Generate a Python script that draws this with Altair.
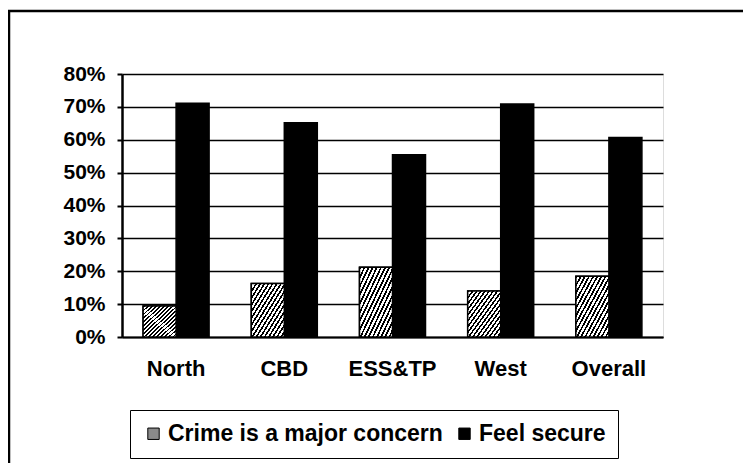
import altair as alt
import pandas as pd

categories = ["North", "CBD", "ESS&TP", "West", "Overall"]
series_names = ["Crime is a major concern", "Feel secure"]
crime_vals = [9.4, 16.3, 21.2, 14.0, 18.5]
secure_vals = [71.1, 65.2, 55.4, 70.9, 60.7]
y_ticks = [0, 10, 20, 30, 40, 50, 60, 70, 80]

rows = []
for c, a, b in zip(categories, crime_vals, secure_vals):
    rows.append({"cat": c, "series": series_names[0], "value": a / 100})
    rows.append({"cat": c, "series": series_names[1], "value": b / 100})
df = pd.DataFrame(rows)

FONT = "Liberation Sans"
W, H = 541, 263

# diagonal hatch via hard-stop gradient
N = 16
stops = []
for i in range(N):
    a = i / N
    b = (i + 0.45) / N
    c2 = (i + 1) / N
    stops += [
        {"offset": a, "color": "#000000"},
        {"offset": b, "color": "#000000"},
        {"offset": b, "color": "#ffffff"},
        {"offset": c2, "color": "#ffffff"},
    ]
hatch = {"gradient": "linear", "x1": 0, "y1": 0, "x2": 1, "y2": 1, "stops": stops}

x_enc = alt.X(
    "cat:N",
    sort=categories,
    scale=alt.Scale(paddingInner=0.39, paddingOuter=0.195),
    axis=alt.Axis(
        title=None, labelAngle=0, labelFont=FONT, labelFontSize=22,
        labelFontWeight="bold", labelColor="black", labelPadding=21,
        ticks=False, domainColor="black", domainWidth=2,
    ),
)
y_enc = alt.Y(
    "value:Q",
    scale=alt.Scale(domain=[0, 0.8], nice=False),
    axis=alt.Axis(
        title=None, format=".0%", values=[v / 100 for v in y_ticks],
        labelFont=FONT, labelFontSize=21, labelFontWeight="bold",
        labelColor="black", labelPadding=12, tickSize=5, tickColor="black",
        tickWidth=2, domainColor="black", domainWidth=2.5, labelOverlap=False,
        grid=True, gridColor="black", gridWidth=1.6, gridOpacity=1,
    ),
)
xoff = alt.XOffset("series:N", sort=series_names, scale=alt.Scale(domain=series_names, paddingInner=0, paddingOuter=0))

bars = alt.Chart(df).mark_bar(stroke="black", strokeWidth=1.5).encode(
    x=x_enc,
    y=y_enc,
    xOffset=xoff,
    color=alt.Color(
        "series:N",
        sort=series_names,
        scale=alt.Scale(domain=series_names, range=["#8a8a8a", "#000000"]),
        legend=alt.Legend(
            title=None, orient="none", legendX=8, legendY=336, direction="horizontal",
            labelFont=FONT, labelFontSize=23, labelFontWeight="bold", labelColor="black",
            symbolType="square", symbolSize=130, symbolStrokeColor="black",
            symbolStrokeWidth=1, columnPadding=10, labelOffset=3, labelLimit=500,
            strokeColor="black", padding=12, symbolOpacity=1,
        ),
    ),
)

hatched = alt.Chart(df).transform_filter(
    alt.datum.series == series_names[0]
).mark_bar(stroke="black", strokeWidth=1.5, fill=hatch).encode(
    x=x_enc,
    y=y_enc,
    xOffset=xoff,
)

frame = alt.Chart(pd.DataFrame({"k": [0]})).mark_rect(
    fill="white", fillOpacity=0, stroke="black", strokeWidth=2.5
).encode(
    x=alt.value(-113), x2=alt.value(760), y=alt.value(-63), y2=alt.value(420)
)

chart = alt.layer(frame, bars, hatched).properties(
    width=W, height=H,
    autosize=alt.AutoSizeParams(type="none"),
    padding={"left": 114, "top": 66, "right": 80, "bottom": 126},
).configure_view(strokeOpacity=0, strokeWidth=0).configure(background="white")

chart.save("out.html", embed_options={"renderer": "svg", "actions": False})
